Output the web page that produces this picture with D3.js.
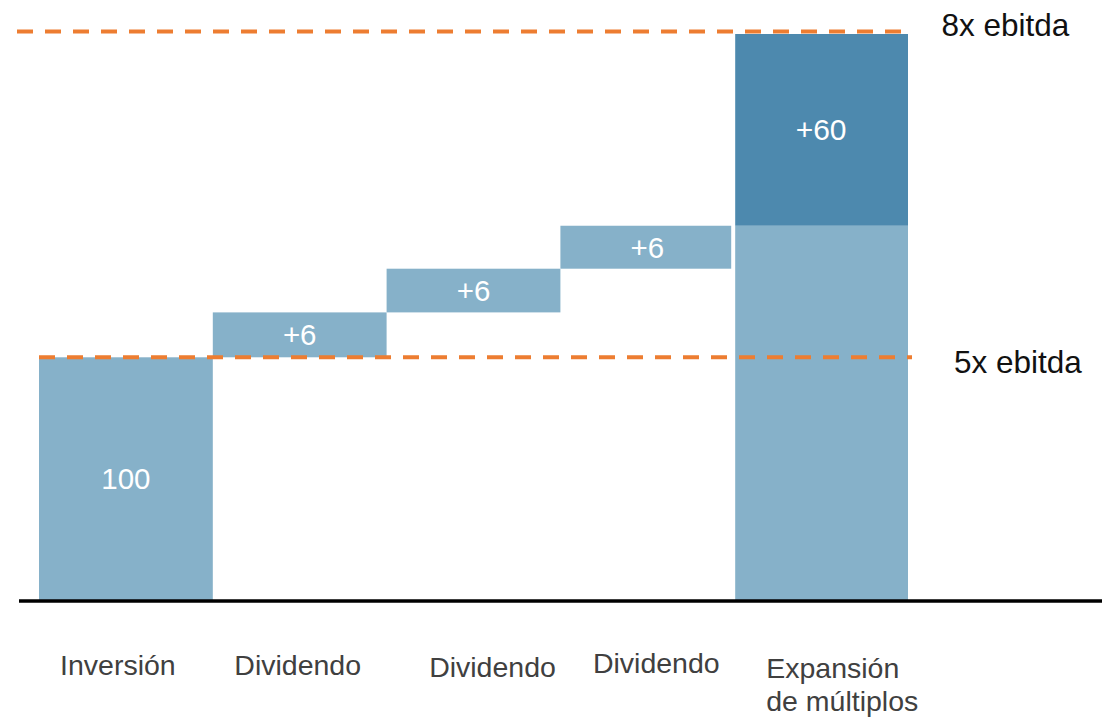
<!DOCTYPE html>
<html>
<head>
<meta charset="utf-8">
<script src="https://cdn.jsdelivr.net/npm/d3@7"></script>
<style>
  html, body { margin: 0; padding: 0; background: #fff; }
  svg { display: block; font-family: "Liberation Sans", Arial, Helvetica, sans-serif; }
</style>
</head>
<body>
<svg id="chart" width="1102" height="718"></svg>
<script>
// ---- data ----
const categories = ["Inversión", "Dividendo", "Dividendo", "Dividendo", "Expansión\nde múltiplos"];
// plotted heights (chart is not drawn to scale of its labels)
const baseValues  = [0, 100, 118.5, 136.5, 0];      // where each floating segment starts
const stepValues  = [100, 18.5, 18, 17.7, 154.2];   // light segment height
const extraValues = [0, 0, 0, 0, 79];               // dark segment stacked on top
const valueLabels = ["100", "+6", "+6", "+6", "+60"];
const refLines    = [{ label: "5x ebitda", value: 100 }, { label: "8x ebitda", value: 234.2 }];

// ---- layout ----
const W = 1102, H = 718;
const svg = d3.select("#chart");
const x = d3.scaleBand().domain(d3.range(categories.length)).range([39, 908]).paddingInner(0).paddingOuter(0);
const y = d3.scaleLinear().domain([0, 240]).range([600, 17.5]);

const light = "#86b1c9", dark = "#4d89ae", orange = "#ed7d31";

// light segments
svg.append("g").selectAll("rect").data(d3.range(categories.length)).join("rect")
  .attr("x", i => x(i) + (i === categories.length - 1 ? 1 : 0))
  .attr("width", i => x.bandwidth() - (i === categories.length - 1 ? 1 : (i === categories.length - 2 ? 3 : 0)))
  .attr("y", i => y(baseValues[i] + stepValues[i]))
  .attr("height", i => y(baseValues[i]) - y(baseValues[i] + stepValues[i]))
  .attr("fill", light);

// dark segments
svg.append("g").selectAll("rect").data(d3.range(categories.length).filter(i => extraValues[i] > 0)).join("rect")
  .attr("x", i => x(i) + 1)
  .attr("width", i => x.bandwidth() - 1)
  .attr("y", i => y(baseValues[i] + stepValues[i] + extraValues[i]))
  .attr("height", i => y(baseValues[i] + stepValues[i]) - y(baseValues[i] + stepValues[i] + extraValues[i]))
  .attr("fill", dark);

// value labels
svg.append("g").selectAll("text").data(d3.range(categories.length)).join("text")
  .attr("x", i => x(i) + x.bandwidth() / 2)
  .attr("y", i => {
    const lo = extraValues[i] > 0 ? baseValues[i] + stepValues[i] : baseValues[i];
    const hi = extraValues[i] > 0 ? lo + extraValues[i] : lo + stepValues[i];
    return (y(lo) + y(hi)) / 2;
  })
  .attr("dy", "0.35em")
  .attr("text-anchor", "middle")
  .attr("fill", "#fff")
  .attr("font-size", i => i === categories.length - 1 ? 30 : 29.5)
  .text(i => valueLabels[i]);

// baseline axis
const xAxis = d3.axisBottom(x).tickSize(0).tickFormat("");
const ax = svg.append("g").attr("transform", `translate(0,${y(0) + 1})`).call(xAxis);
ax.select(".domain").attr("d", `M19,0H${W}`).attr("stroke", "#000").attr("stroke-width", 3.5);

// category labels (hand nudges to mirror the reference's manual placement)
const labelNudge = [[-8, 675], [-2, 675], [19, 677], [9, 673], [null, 678]];
const catG = svg.append("g").attr("fill", "#404040").attr("font-size", 28.5);
categories.forEach((c, i) => {
  const lines = c.split("\n");
  const t = catG.append("text");
  if (lines.length > 1) {
    t.attr("x", x(i) + 32).attr("y", labelNudge[i][1]).attr("text-anchor", "start");
    lines.forEach((ln, k) => t.append("tspan").attr("x", x(i) + 32).attr("dy", k === 0 ? 0 : 33).text(ln));
  } else {
    t.attr("x", x(i) + x.bandwidth() / 2 + labelNudge[i][0]).attr("y", labelNudge[i][1])
      .attr("text-anchor", "middle").text(c);
  }
});

// reference dashed lines
const lineExtent = [[39, 912], [17, 908]];
refLines.forEach((r, k) => {
  svg.append("line")
    .attr("x1", lineExtent[k][0]).attr("x2", lineExtent[k][1])
    .attr("y1", y(r.value)).attr("y2", y(r.value))
    .attr("stroke", orange).attr("stroke-width", 4)
    .attr("stroke-dasharray", "16,12");
});
svg.append("text").attr("x", 954).attr("y", y(refLines[0].value) + 15.5)
  .attr("font-size", 31.5).attr("fill", "#111").text(refLines[0].label);
svg.append("text").attr("x", 941.5).attr("y", y(refLines[1].value) + 4.5)
  .attr("font-size", 31.5).attr("fill", "#111").text(refLines[1].label);
</script>
</body>
</html>
